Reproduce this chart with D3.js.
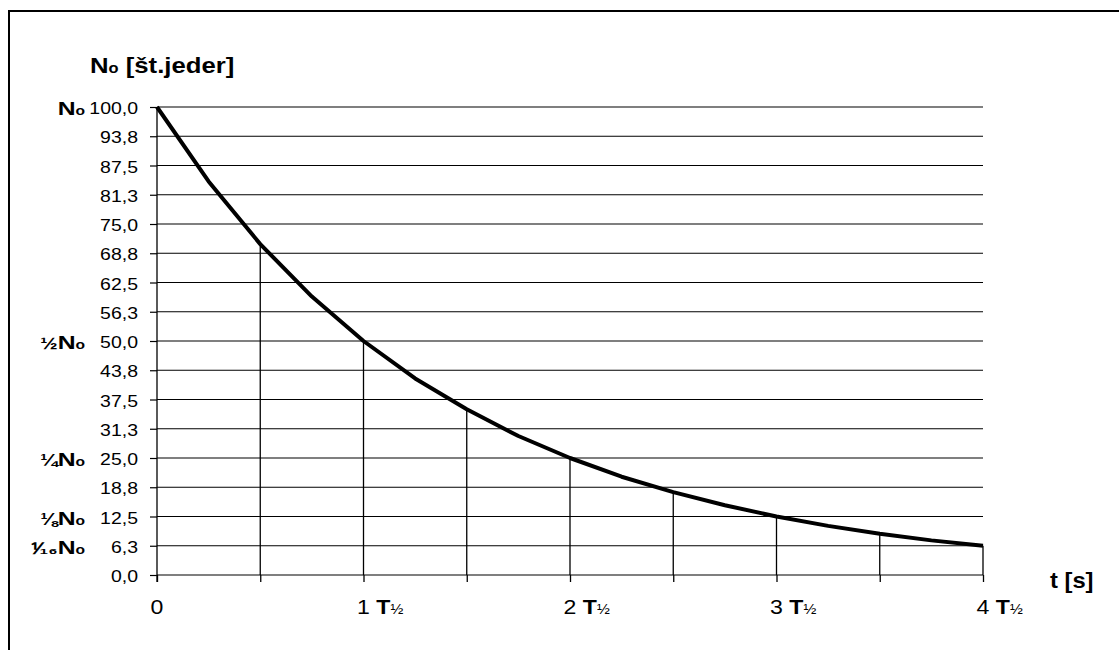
<!DOCTYPE html>
<html>
<head>
<meta charset="utf-8">
<script src="https://cdn.jsdelivr.net/npm/d3@7"></script>
<style>
  body { margin: 0; background: #fff; }
  text { font-family: "Liberation Sans", Arial, sans-serif; fill: #000; }
</style>
</head>
<body>
<div id="chart"></div>
<script>
// decay of nuclei, time in half-lives
const times = [0, 0.25, 0.5, 0.75, 1, 1.25, 1.5, 1.75, 2, 2.25, 2.5, 2.75, 3, 3.25, 3.5, 3.75, 4];
const nuclei = [100, 84.1, 70.7, 59.5, 50, 42.0, 35.4, 29.7, 25, 21.0, 17.7, 14.9, 12.5, 10.5, 8.8, 7.4, 6.25];

const dropTimes = [0.5, 1, 1.5, 2, 2.5, 3, 3.5, 4];
const dropValues = [70.7, 50, 35.4, 25, 17.7, 12.5, 8.8, 6.25];

const yTicks = [0, 6.25, 12.5, 18.75, 25, 31.25, 37.5, 43.75, 50, 56.25, 62.5, 68.75, 75, 81.25, 87.5, 93.75, 100];
const yTickLabels = ["0,0", "6,3", "12,5", "18,8", "25,0", "31,3", "37,5", "43,8", "50,0", "56,3", "62,5", "68,8", "75,0", "81,3", "87,5", "93,8", "100,0"];

const xTicks = [0, 0.5, 1, 1.5, 2, 2.5, 3, 3.5, 4];
const xLabelValues = [0, 1, 2, 3, 4];
const xLabelNums = ["0", "1", "2", "3", "4"];

const fracValues = [100, 50, 25, 12.5, 6.25];
const fracLabels = ["", "½", "¼", "⅛", "⅟₁₆"];

const width = 1119, height = 650;
const x = d3.scaleLinear().domain([0, 4]).range([157, 983]);
const y = d3.scaleLinear().domain([0, 100]).range([575, 107]);

const svg = d3.select("#chart").append("svg")
  .attr("width", width)
  .attr("height", height);

// outer frame (runs off the right and bottom)
svg.append("path")
  .attr("d", `M9,${height + 5} V11 H${width + 5}`)
  .attr("fill", "none")
  .attr("stroke", "#000")
  .attr("stroke-width", 2);

// horizontal grid
svg.append("g")
  .selectAll("line")
  .data(yTicks)
  .join("line")
  .attr("x1", x(0))
  .attr("x2", x(4))
  .attr("y1", d => y(d))
  .attr("y2", d => y(d))
  .attr("stroke", "#000")
  .attr("stroke-width", 1.2);

// y axis with tick marks
svg.append("g")
  .attr("transform", `translate(${x(0)},0)`)
  .call(d3.axisLeft(y).tickValues(yTicks).tickSize(7).tickFormat(""))
  .call(g => g.select(".domain").remove())
  .call(g => g.selectAll("line").attr("stroke-width", 1.2));

svg.append("line")
  .attr("x1", x(0)).attr("x2", x(0))
  .attr("y1", y(100)).attr("y2", y(0) + 7)
  .attr("stroke", "#000")
  .attr("stroke-width", 1.3);

// x tick marks
svg.append("g")
  .attr("transform", `translate(0,${y(0)})`)
  .call(d3.axisBottom(x).tickValues(xTicks).tickSize(7).tickFormat(""))
  .call(g => g.select(".domain").remove())
  .call(g => g.selectAll("line").attr("stroke-width", 1.3));

// drop lines
svg.append("g")
  .selectAll("line")
  .data(dropTimes)
  .join("line")
  .attr("x1", d => x(d))
  .attr("x2", d => x(d))
  .attr("y1", (d, i) => y(dropValues[i]))
  .attr("y2", y(0))
  .attr("stroke", "#000")
  .attr("stroke-width", 1.3);

// decay curve
const line = d3.line()
  .x((d, i) => x(times[i]))
  .y(d => y(d));

svg.append("path")
  .datum(nuclei)
  .attr("d", line)
  .attr("fill", "none")
  .attr("stroke", "#000")
  .attr("stroke-width", 4)
  .attr("stroke-linejoin", "round");

// y tick labels (stretched sideways like the original)
svg.append("g")
  .selectAll("text")
  .data(yTicks)
  .join("text")
  .attr("transform", d => `translate(138,${y(d) + 7}) scale(1.18,1)`)
  .attr("text-anchor", "end")
  .attr("font-size", 16.5)
  .text((d, i) => yTickLabels[i]);

// fraction labels N0, 1/2 N0 ...
const frac = svg.append("g")
  .selectAll("text")
  .data(fracValues)
  .join("text")
  .attr("transform", d => `translate(85,${y(d) + 8}) scale(1.3,1)`)
  .attr("text-anchor", "end")
  .attr("font-weight", "bold")
  .attr("font-size", 19);
frac.append("tspan").text((d, i) => fracLabels[i]).attr("font-size", 16);
frac.append("tspan").text("N");
frac.append("tspan").text("o").attr("font-size", 12);

// x labels
const xl = svg.append("g")
  .selectAll("text")
  .data(xLabelValues)
  .join("text")
  .attr("transform", d => `translate(${x(d) - 6.4},614) scale(1.1,1)`)
  .attr("font-size", 21);
xl.append("tspan").text((d, i) => xLabelNums[i]);
xl.filter(d => d > 0).append("tspan").text(" T").attr("font-weight", "bold");
xl.filter(d => d > 0).append("tspan").text("½").attr("font-size", 14);

// axis titles
const title = svg.append("text")
  .attr("transform", "translate(90,73) scale(1.17,1)")
  .attr("font-weight", "bold")
  .attr("font-size", 22);
title.append("tspan").text("N");
title.append("tspan").text("o").attr("font-size", 14);
title.append("tspan").text(" [št.jeder]");

svg.append("text")
  .attr("transform", "translate(1050,588) scale(1.08,1)")
  .attr("font-weight", "bold")
  .attr("font-size", 22)
  .text("t [s]");
</script>
</body>
</html>
